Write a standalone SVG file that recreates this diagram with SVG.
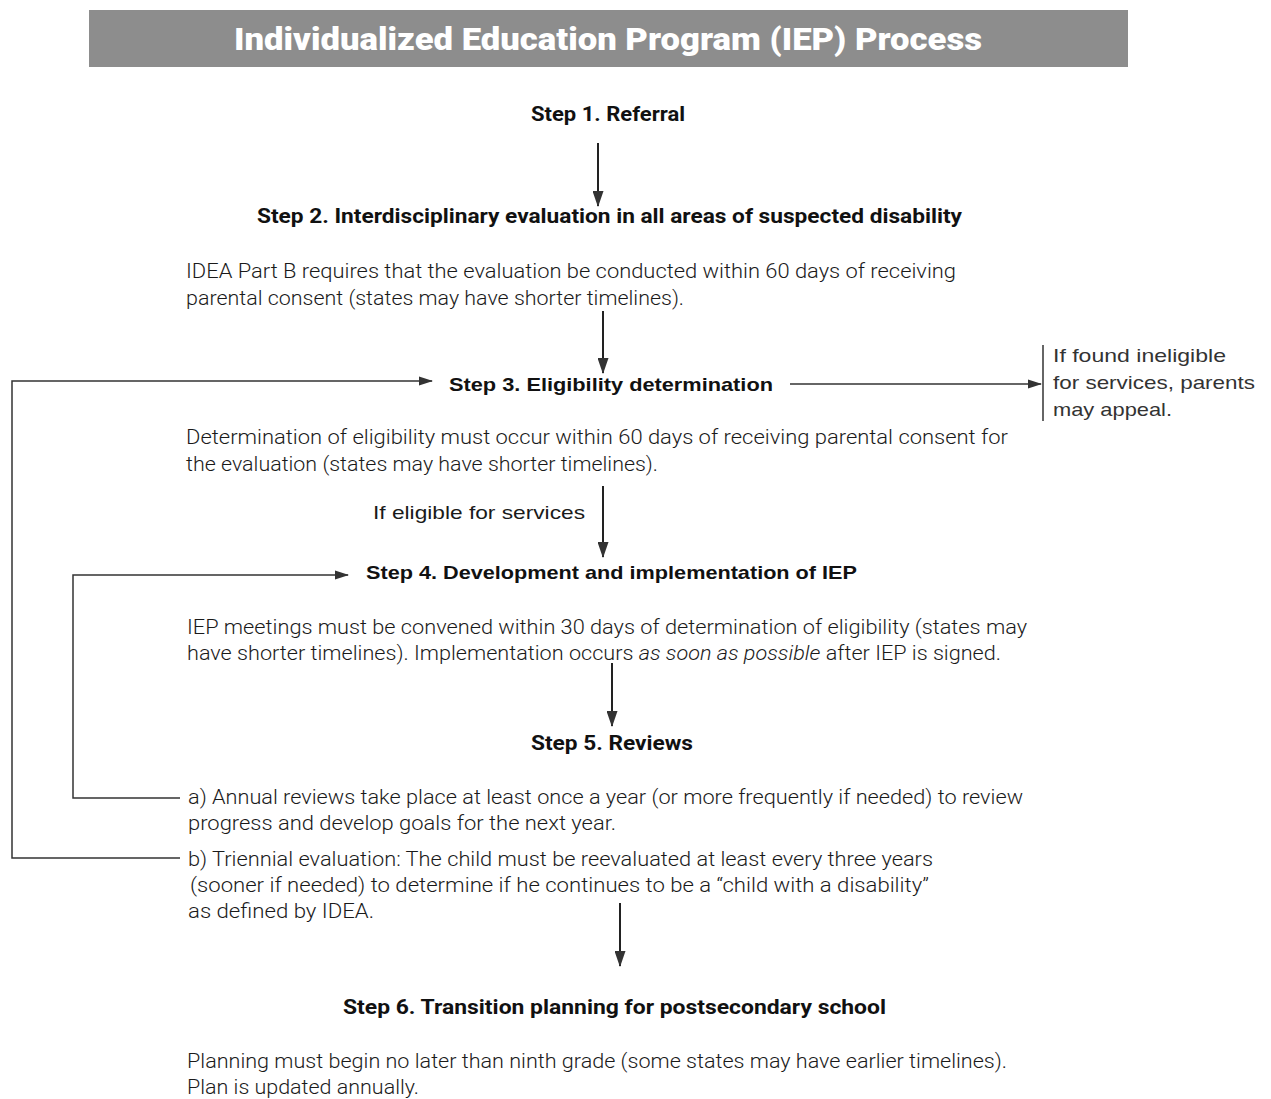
<svg xmlns="http://www.w3.org/2000/svg" width="1271" height="1099" viewBox="0 0 1271 1099">
<defs>
<marker id="ah" viewBox="0 0 14 10" refX="13" refY="5" markerWidth="14" markerHeight="10" markerUnits="userSpaceOnUse" orient="auto">
<path d="M0,0.5 L14,5 L0,9.5 Z" fill="#333"/>
</marker>
<marker id="ahv" viewBox="0 0 16 11" refX="15" refY="5.5" markerWidth="16" markerHeight="11" markerUnits="userSpaceOnUse" orient="auto">
<path d="M0,0 L16,5.5 L0,11 Z" fill="#333"/>
</marker>
<style>
.title{font-family:Roboto,"Liberation Sans",sans-serif;font-weight:900;font-size:31px;fill:#fff}
.step{font-family:Roboto,"Liberation Sans",sans-serif;font-weight:700;font-size:21px;fill:#111}
.stepH{font-family:"Liberation Sans",Arial,sans-serif;font-weight:700;font-size:19px;fill:#111}
.body{font-family:Roboto,"Liberation Sans",sans-serif;font-weight:300;font-size:20px;fill:#1a1a1a}
.side{font-family:"Liberation Sans",Arial,sans-serif;font-size:19px;fill:#333}
.lbl{font-family:"Liberation Sans",Arial,sans-serif;font-size:19px;fill:#1a1a1a}
.ln{stroke:#333;stroke-width:1.5;fill:none}
.lv{stroke:#222;stroke-width:2;fill:none}
</style>
</defs>
<rect width="1271" height="1099" fill="#fff"/>
<g id="header">
<rect x="89" y="10" width="1039" height="57" fill="#8d8d8d"/>
<text class="title" x="234" y="50" textLength="748" lengthAdjust="spacingAndGlyphs">Individualized Education Program (IEP) Process</text>
</g>
<g id="step1">
<text class="step" x="531" y="121" textLength="154" lengthAdjust="spacingAndGlyphs">Step 1. Referral</text>
</g>
<g id="step2">
<text class="step" x="257" y="223" textLength="705" lengthAdjust="spacingAndGlyphs">Step 2. Interdisciplinary evaluation in all areas of suspected disability</text>
<text class="body" x="186" y="278" textLength="770" lengthAdjust="spacingAndGlyphs">IDEA Part B requires that the evaluation be conducted within 60 days of receiving</text>
<text class="body" x="186" y="305" textLength="498" lengthAdjust="spacingAndGlyphs">parental consent (states may have shorter timelines).</text>
</g>
<g id="step3">
<text class="stepH" x="449" y="391" textLength="324" lengthAdjust="spacingAndGlyphs">Step 3. Eligibility determination</text>
<text class="body" x="186" y="444" textLength="822" lengthAdjust="spacingAndGlyphs">Determination of eligibility must occur within 60 days of receiving parental consent for</text>
<text class="body" x="186" y="471" textLength="472" lengthAdjust="spacingAndGlyphs">the evaluation (states may have shorter timelines).</text>
</g>
<g id="appeal">
<text class="side" x="1053" y="362" textLength="173" lengthAdjust="spacingAndGlyphs">If found ineligible</text>
<text class="side" x="1053" y="389" textLength="202" lengthAdjust="spacingAndGlyphs">for services, parents</text>
<text class="side" x="1053" y="416" textLength="119" lengthAdjust="spacingAndGlyphs">may appeal.</text>
</g>
<g id="step4">
<text class="stepH" x="366" y="579" textLength="491" lengthAdjust="spacingAndGlyphs">Step 4. Development and implementation of IEP</text>
<text class="body" x="187" y="634" textLength="840" lengthAdjust="spacingAndGlyphs">IEP meetings must be convened within 30 days of determination of eligibility (states may</text>
<text class="body" x="187" y="660" textLength="814" lengthAdjust="spacingAndGlyphs">have shorter timelines). Implementation occurs <tspan font-style="italic">as soon as possible</tspan> after IEP is signed.</text>
</g>
<g id="step5">
<text class="step" x="531" y="750" textLength="162" lengthAdjust="spacingAndGlyphs">Step 5. Reviews</text>
<text class="body" x="188" y="804" textLength="835" lengthAdjust="spacingAndGlyphs">a) Annual reviews take place at least once a year (or more frequently if needed) to review</text>
<text class="body" x="188" y="830" textLength="428" lengthAdjust="spacingAndGlyphs">progress and develop goals for the next year.</text>
<text class="body" x="188" y="866" textLength="745" lengthAdjust="spacingAndGlyphs">b) Triennial evaluation: The child must be reevaluated at least every three years</text>
<text class="body" x="190" y="892" textLength="739" lengthAdjust="spacingAndGlyphs">(sooner if needed) to determine if he continues to be a “child with a disability”</text>
<text class="body" x="188" y="918" textLength="186" lengthAdjust="spacingAndGlyphs">as defined by IDEA.</text>
</g>
<g id="step6">
<text class="step" x="343" y="1014" textLength="543" lengthAdjust="spacingAndGlyphs">Step 6. Transition planning for postsecondary school</text>
<text class="body" x="187" y="1068" textLength="820" lengthAdjust="spacingAndGlyphs">Planning must begin no later than ninth grade (some states may have earlier timelines).</text>
<text class="body" x="187" y="1094" textLength="232" lengthAdjust="spacingAndGlyphs">Plan is updated annually.</text>
</g>
<g id="eligible-label">
<text class="lbl" x="373" y="519" textLength="212" lengthAdjust="spacingAndGlyphs">If eligible for services</text>
</g>
<g id="connectors">
<line class="lv" x1="598" y1="143" x2="598" y2="206" marker-end="url(#ahv)"/>
<line class="lv" x1="603" y1="311" x2="603" y2="373" marker-end="url(#ahv)"/>
<line class="lv" x1="603" y1="486" x2="603" y2="557" marker-end="url(#ahv)"/>
<line class="lv" x1="612" y1="663" x2="612" y2="726" marker-end="url(#ahv)"/>
<line class="lv" x1="620" y1="903" x2="620" y2="966" marker-end="url(#ahv)"/>
<line class="ln" x1="790" y1="384" x2="1041" y2="384" marker-end="url(#ah)"/>
<line class="ln" x1="1043" y1="345" x2="1043" y2="421"/>
<path class="ln" d="M180,858 H12 V381 H432" marker-end="url(#ah)"/>
<path class="ln" d="M180,798 H73 V575 H348" marker-end="url(#ah)"/>
</g>
</svg>
